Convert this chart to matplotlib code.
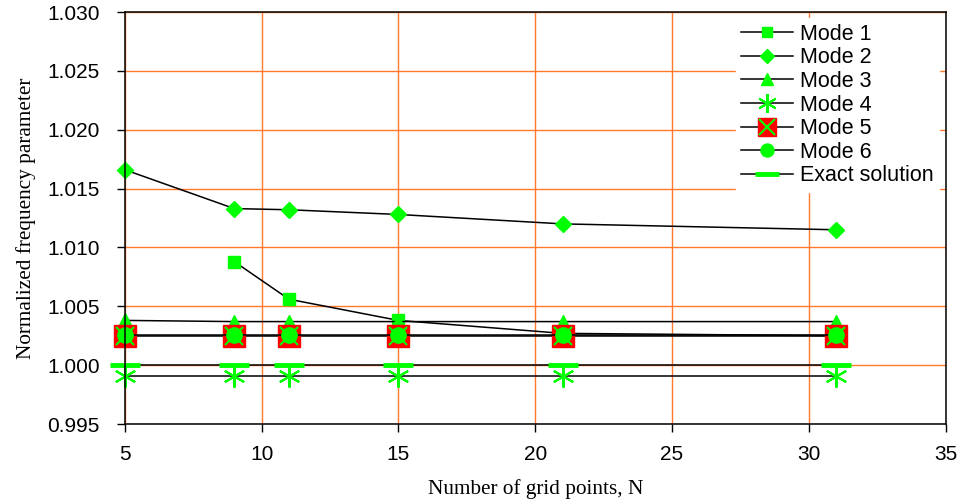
import matplotlib
matplotlib.use('Agg')
import matplotlib.pyplot as plt
from matplotlib.legend_handler import HandlerTuple

# data
n_all = [5, 9, 11, 15, 21, 31]
n_mode1 = [9, 11, 15, 21, 31]
mode1 = [1.0088, 1.0056, 1.0038, 1.0027, 1.0025]
mode2 = [1.0166, 1.0133, 1.0132, 1.0128, 1.0120, 1.0115]
mode3 = [1.0038, 1.0037, 1.0037, 1.0037, 1.0037, 1.0037]
mode4 = [0.9991, 0.9991, 0.9991, 0.9991, 0.9991, 0.9991]
mode5 = [1.0025, 1.0025, 1.0025, 1.0025, 1.0025, 1.0025]
mode6 = [1.0026, 1.0026, 1.0026, 1.0026, 1.0026, 1.0026]
exact = [1.0000, 1.0000, 1.0000, 1.0000, 1.0000, 1.0000]

x_ticks = [5, 10, 15, 20, 25, 30, 35]
y_ticks = [0.995, 1.000, 1.005, 1.010, 1.015, 1.020, 1.025, 1.030]

GREEN = '#00ff00'
RED = '#ff0000'
GRID = '#ff7a2a'
sans = ['Liberation Sans', 'DejaVu Sans']
serif = ['Liberation Serif', 'DejaVu Serif']

fig = plt.figure(figsize=(9.6, 5.0), dpi=100)
ax = fig.add_axes([0.130, 0.152, 0.855, 0.824])

line_kw = dict(color='black', lw=1.1, clip_on=False)

h1, = ax.plot(n_mode1, mode1, marker='s', ms=8, mfc=GREEN, mec=GREEN, **line_kw)
h2, = ax.plot(n_all, mode2, marker='D', ms=8.5, mfc=GREEN, mec=GREEN, **line_kw)
h3, = ax.plot(n_all, mode3, marker='^', ms=10, mfc=GREEN, mec=GREEN, **line_kw)
h4, = ax.plot(n_all, mode4, marker=(6, 2, 0), ms=16, mec=GREEN, mew=1.5, **line_kw)
h5a, = ax.plot(n_all, mode5, marker='s', ms=15.5, mfc=RED, mec=RED, **line_kw)
h5b, = ax.plot(n_all, mode5, marker='x', ms=13, mec=GREEN, mew=1.5, ls='none', clip_on=False)
h6, = ax.plot(n_all, mode6, marker='o', ms=11, mfc=GREEN, mec=GREEN, **line_kw)
h7, = ax.plot(n_all, exact, marker='_', ms=21, mec=GREEN, mew=3.5, **line_kw)

ax.set_xlim(5, 35)
ax.set_ylim(0.995, 1.030)
ax.set_xticks(x_ticks)
ax.set_yticks(y_ticks)
ax.set_xticklabels([str(v) for v in x_ticks], family=sans, fontsize=15)
ax.set_yticklabels([f'{v:.3f}' for v in y_ticks], family=sans, fontsize=15)
ax.tick_params(direction='out', length=6, width=1, color='black')
ax.tick_params(axis='x', pad=9)
ax.tick_params(axis='y', pad=12)

ax.grid(True, color=GRID, lw=1)
ax.set_axisbelow(True)
for s in ax.spines.values():
    s.set_color('black')
    s.set_linewidth(1.1)

ax.set_xlabel('Number of grid points, N', family=serif, fontsize=15.3, labelpad=11)
ax.set_ylabel('Normalized frequency parameter', family=serif, fontsize=15.3, labelpad=8)

leg = ax.legend([h1, h2, h3, h4, (h5a, h5b), h6, h7],
                ['Mode 1', 'Mode 2', 'Mode 3', 'Mode 4', 'Mode 5', 'Mode 6', 'Exact solution'],
                handler_map={tuple: HandlerTuple(ndivide=1)},
                loc='upper right', numpoints=1, prop={'family': sans, 'size': 15.5},
                markerscale=0.85,
                frameon=True, fancybox=False, edgecolor='white', facecolor='white',
                framealpha=1, borderaxespad=0.3, borderpad=0.25, labelspacing=0.12,
                handlelength=2.4, handletextpad=0.35)
leg.set_zorder(5)

fig.savefig('out.png', dpi=100)
